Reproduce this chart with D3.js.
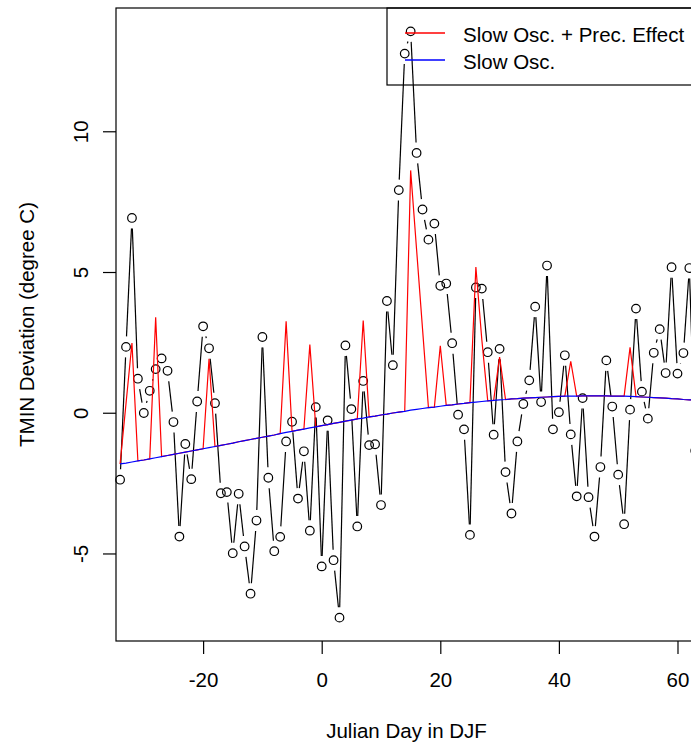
<!DOCTYPE html>
<html><head><meta charset="utf-8">
<script src="https://cdn.jsdelivr.net/npm/d3@7/dist/d3.min.js"></script>
<style>
body{margin:0;background:#fff}
svg text{font-family:"Liberation Sans",Arial,Helvetica,sans-serif;fill:#000}
</style>
</head><body>
<svg id="chart" width="691" height="742"></svg>
<script>
// ---- data ----
const days = [-34,-33,-32,-31,-30,-29,-28,-27,-26,-25,-24,-23,-22,-21,-20,-19,-18,-17,-16,-15,
  -14,-13,-12,-11,-10,-9,-8,-7,-6,-5,-4,-3,-2,-1,0,1,2,3,4,5,6,7,8,9,10,11,12,13,14,15,16,17,18,19,
  20,21,22,23,24,25,26,27,28,29,30,31,32,33,34,35,36,37,38,39,40,41,42,43,44,45,46,47,48,49,
  50,51,52,53,54,55,56,57,58,59,60,61,62,63];
const tminDev = [-2.38,2.34,6.92,1.21,-0.01,0.78,1.55,1.93,1.49,-0.33,-4.40,-1.11,-2.36,0.40,3.07,2.29,0.34,-2.86,-2.82,-4.99,
  -2.88,-4.75,-6.43,-3.83,2.69,-2.31,-4.92,-4.41,-1.02,-0.32,-3.05,-1.37,-4.19,0.20,-5.46,-0.27,-5.24,-7.28,2.39,0.13,-4.04,1.13,-1.15,-1.12,-3.28,3.97,1.69,7.91,12.76,13.55,9.23,7.22,6.15,6.72,
  4.51,4.59,2.47,-0.07,-0.59,-4.34,4.45,4.41,2.15,-0.78,2.27,-2.11,-3.58,-1.02,0.31,1.15,3.77,0.38,5.23,-0.59,0.02,2.04,-0.77,-2.97,0.52,-3.00,-4.40,-1.93,1.86,0.22,
  -2.20,-3.96,0.11,3.70,0.75,-0.21,2.13,2.97,1.41,5.17,1.39,2.12,5.14,-1.35];
const slowOsc = [-1.82,-1.79,-1.75,-1.71,-1.68,-1.64,-1.60,-1.56,-1.52,-1.48,-1.44,-1.40,-1.36,-1.32,-1.28,-1.24,-1.20,-1.16,-1.12,-1.08,
  -1.03,-0.99,-0.95,-0.91,-0.87,-0.83,-0.79,-0.74,-0.70,-0.66,-0.62,-0.58,-0.54,-0.50,-0.46,-0.42,-0.38,-0.34,-0.30,-0.26,-0.22,-0.19,-0.15,-0.12,-0.08,-0.05,-0.01,0.02,0.05,0.09,0.12,0.15,0.18,0.20,
  0.23,0.26,0.28,0.31,0.33,0.36,0.38,0.40,0.42,0.44,0.46,0.47,0.49,0.50,0.52,0.53,0.54,0.55,0.56,0.57,0.58,0.59,0.59,0.59,0.60,0.60,0.60,0.60,0.60,0.59,
  0.59,0.59,0.58,0.57,0.56,0.55,0.54,0.53,0.52,0.50,0.49,0.47,0.46,0.44];
const precEffect = [0,2.12,4.23,0,0,0,4.99,0,0,0,0,0,0,0,0,3.16,0,0,0,0,
  0,0,0,0,0,0,0,0,3.95,0,0,0,2.96,0,0,0,0,0,0,0,0,3.47,0,0,0,0,0,0,0,8.52,5.68,2.84,0,0,
  2.15,0,0,0,0,0,4.80,2.20,0,0,1.52,0,0,0,0,0,0,0,0,0,0,0,1.24,0,0,0,0,0,0,0,
  0,0,1.74,0,0,0,0,0,0,0,0,0,0,0];
const xTicks = [-20,0,20,40,60];
const yTicks = [-5,0,5,10];
const legendLabels = ["Slow Osc. + Prec. Effect","Slow Osc."];
const legendColors = ["#ff0000","#0000ff"];

// ---- layout ----
const L = 116, T = 8, B = 641, R = 697;
const x = d3.scaleLinear().domain([-34.69, 63.29]).range([L, R]);
const y = d3.scaleLinear().domain([-8.11, 14.38]).range([B, T]);
const svg = d3.select("#chart");
const FS = 20.5;
const fmt = d => String(d);   // ASCII hyphen-minus, as in the reference

const pts = days.map((d,i)=>({d, v:tminDev[i], px:x(d), py:y(tminDev[i])}));

// black "type b" line: segments with gaps around points
const gap = 10.5;
const segs = [];
for (let i=0;i<pts.length-1;i++){
  const a=pts[i], b=pts[i+1];
  const dx=b.px-a.px, dy=b.py-a.py, len=Math.hypot(dx,dy);
  if (len>2*gap){ const ux=dx/len, uy=dy/len;
    segs.push([a.px+ux*gap,a.py+uy*gap,b.px-ux*gap,b.py-uy*gap]); }
}
svg.append("g").selectAll("line").data(segs).join("line")
  .attr("x1",s=>s[0]).attr("y1",s=>s[1]).attr("x2",s=>s[2]).attr("y2",s=>s[3])
  .attr("stroke","#000").attr("stroke-width",1.2);

svg.append("g").selectAll("circle").data(pts).join("circle")
  .attr("cx",p=>p.px).attr("cy",p=>p.py).attr("r",4.3)
  .attr("fill","none").attr("stroke","#000").attr("stroke-width",1.2);

// red: slow osc + precipitation effect; blue: slow osc
const lineGen = d3.line().x(p=>x(p[0])).y(p=>y(p[1]));
svg.append("path").datum(days.map((d,i)=>[d, slowOsc[i]+precEffect[i]]))
  .attr("d",lineGen).attr("fill","none").attr("stroke",legendColors[0]).attr("stroke-width",1.2);
svg.append("path").datum(days.map((d,i)=>[d, slowOsc[i]]))
  .attr("d",lineGen).attr("fill","none").attr("stroke",legendColors[1]).attr("stroke-width",1.2);

// box
svg.append("rect").attr("x",L).attr("y",T).attr("width",R-L).attr("height",B-T)
  .attr("fill","none").attr("stroke","#000").attr("stroke-width",1.2);

// x axis
const xa = svg.append("g").attr("transform",`translate(0,${B})`)
  .call(d3.axisBottom(x).tickValues(xTicks).tickSize(13).tickPadding(18).tickFormat(fmt));
xa.select(".domain").remove();
xa.selectAll("line").attr("stroke","#000").attr("stroke-width",1.2);
xa.selectAll("text").attr("font-size",FS).attr("font-family","Liberation Sans, Arial, sans-serif").attr("fill","#000");

// y axis
const ya = svg.append("g").attr("transform",`translate(${L},0)`)
  .call(d3.axisLeft(y).tickValues(yTicks).tickSize(13).tickFormat(fmt));
ya.select(".domain").remove();
ya.selectAll("line").attr("stroke","#000").attr("stroke-width",1.2);
ya.selectAll("text").remove();
ya.selectAll(".tick").append("text")
  .attr("transform","translate(-28.5,0) rotate(-90)")
  .attr("text-anchor","middle").attr("font-size",FS).attr("fill","#000")
  .text(fmt);

// titles
svg.append("text").attr("x",(L+R)/2).attr("y",738).attr("text-anchor","middle")
  .attr("font-size",FS).text("Julian Day in DJF");
svg.append("text").attr("transform",`translate(34,${(T+B)/2}) rotate(-90)`)
  .attr("text-anchor","middle").attr("font-size",FS).text("TMIN Deviation (degree C)");

// legend (top right, transparent background)
const lg = svg.append("g");
lg.append("rect").attr("x",387).attr("y",T).attr("width",R-387).attr("height",77)
  .attr("fill","none").attr("stroke","#000").attr("stroke-width",1.2);
legendLabels.forEach((lab,i)=>{
  const ly = 33 + i*27;
  lg.append("line").attr("x1",405).attr("x2",445).attr("y1",ly).attr("y2",ly)
    .attr("stroke",legendColors[i]).attr("stroke-width",1.3);
  lg.append("text").attr("x",463).attr("y",ly+9).attr("font-size",FS).text(lab);
});
</script>
</body></html>
